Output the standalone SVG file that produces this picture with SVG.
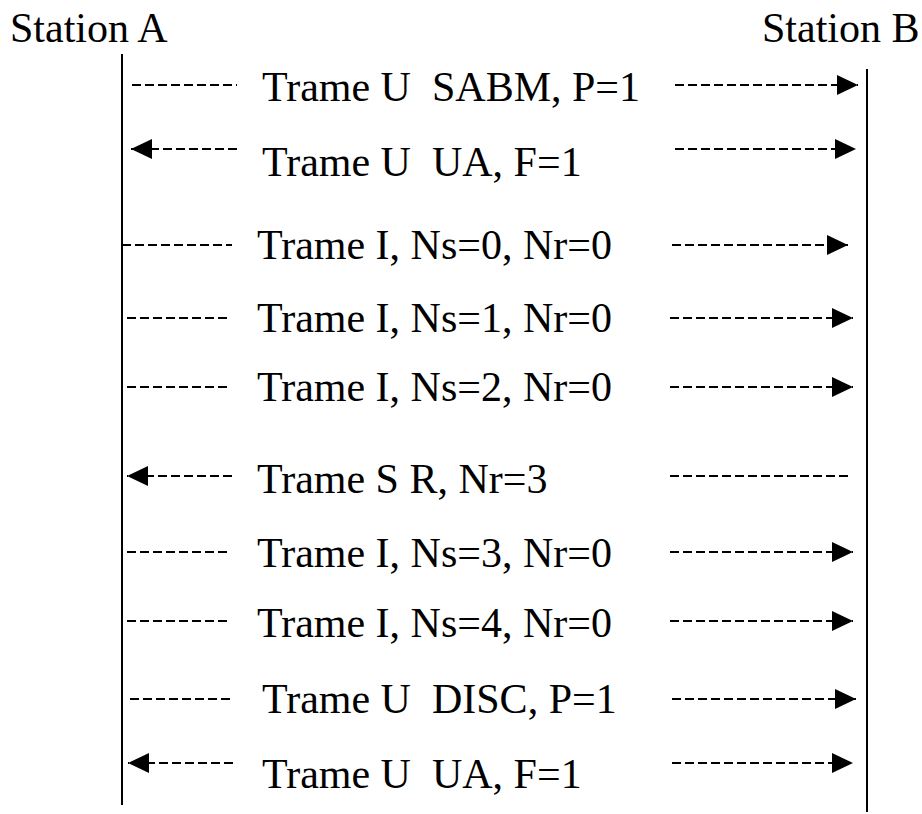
<svg xmlns="http://www.w3.org/2000/svg" width="922" height="814" viewBox="0 0 922 814">
  <style>
    .life { stroke: #000; stroke-width: 2; fill: none; }
    .msg { stroke: #000; stroke-width: 2; stroke-dasharray: 9 4; fill: none; }
  </style>
  <defs>
    <marker id="head" markerUnits="userSpaceOnUse" markerWidth="22" markerHeight="22" refX="21" refY="11" orient="auto">
      <path d="M0,1 L21,11 L0,21 Z" fill="#000"/>
    </marker>
  </defs>
  <rect width="922" height="814" fill="#fff"/>

  <g font-family="Liberation Serif, Times New Roman, serif" font-size="42" fill="#000">
    <!-- stations and lifelines -->
    <g id="stationA">
      <text x="10" y="42">Station A</text>
      <line class="life" x1="122" y1="54" x2="122" y2="805"/>
    </g>
    <g id="stationB">
      <text x="762" y="42">Station B</text>
      <line class="life" x1="867" y1="69" x2="867" y2="812"/>
    </g>

    <!-- frame labels -->
    <g id="labels">
      <text x="262" y="101" xml:space="preserve">Trame U  SABM, P=1</text>
      <text x="262" y="176" xml:space="preserve">Trame U  UA, F=1</text>
      <text x="257" y="259">Trame I, Ns=0, Nr=0</text>
      <text x="257" y="332">Trame I, Ns=1, Nr=0</text>
      <text x="257" y="401">Trame I, Ns=2, Nr=0</text>
      <text x="257" y="493">Trame S R, Nr=3</text>
      <text x="257" y="567">Trame I, Ns=3, Nr=0</text>
      <text x="257" y="637">Trame I, Ns=4, Nr=0</text>
      <text x="262" y="713" xml:space="preserve">Trame U  DISC, P=1</text>
      <text x="262" y="788" xml:space="preserve">Trame U  UA, F=1</text>
    </g>
  </g>

  <!-- dashed frame connectors -->
  <g id="connectors">
    <line class="msg" x1="132" y1="85" x2="237" y2="85"/>
    <line class="msg" x1="675" y1="85" x2="858" y2="85" marker-end="url(#head)"/>

    <line class="msg" x1="237" y1="149" x2="131" y2="149" marker-end="url(#head)"/>
    <line class="msg" x1="675" y1="149" x2="856" y2="149" marker-end="url(#head)"/>

    <line class="msg" x1="122" y1="245" x2="232" y2="245"/>
    <line class="msg" x1="672" y1="245" x2="848" y2="245" marker-end="url(#head)"/>

    <line class="msg" x1="127" y1="318" x2="230" y2="318"/>
    <line class="msg" x1="670" y1="318" x2="853" y2="318" marker-end="url(#head)"/>

    <line class="msg" x1="127" y1="387" x2="230" y2="387"/>
    <line class="msg" x1="670" y1="387" x2="853" y2="387" marker-end="url(#head)"/>

    <line class="msg" x1="232" y1="476" x2="127" y2="476" marker-end="url(#head)"/>
    <line class="msg" x1="670" y1="476" x2="852" y2="476"/>

    <line class="msg" x1="127" y1="552" x2="230" y2="552"/>
    <line class="msg" x1="670" y1="552" x2="853" y2="552" marker-end="url(#head)"/>

    <line class="msg" x1="127" y1="621" x2="230" y2="621"/>
    <line class="msg" x1="670" y1="621" x2="853" y2="621" marker-end="url(#head)"/>

    <line class="msg" x1="130" y1="699" x2="233" y2="699"/>
    <line class="msg" x1="672" y1="699" x2="856" y2="699" marker-end="url(#head)"/>

    <line class="msg" x1="233" y1="763" x2="128" y2="763" marker-end="url(#head)"/>
    <line class="msg" x1="672" y1="763" x2="853" y2="763" marker-end="url(#head)"/>
  </g>
</svg>
